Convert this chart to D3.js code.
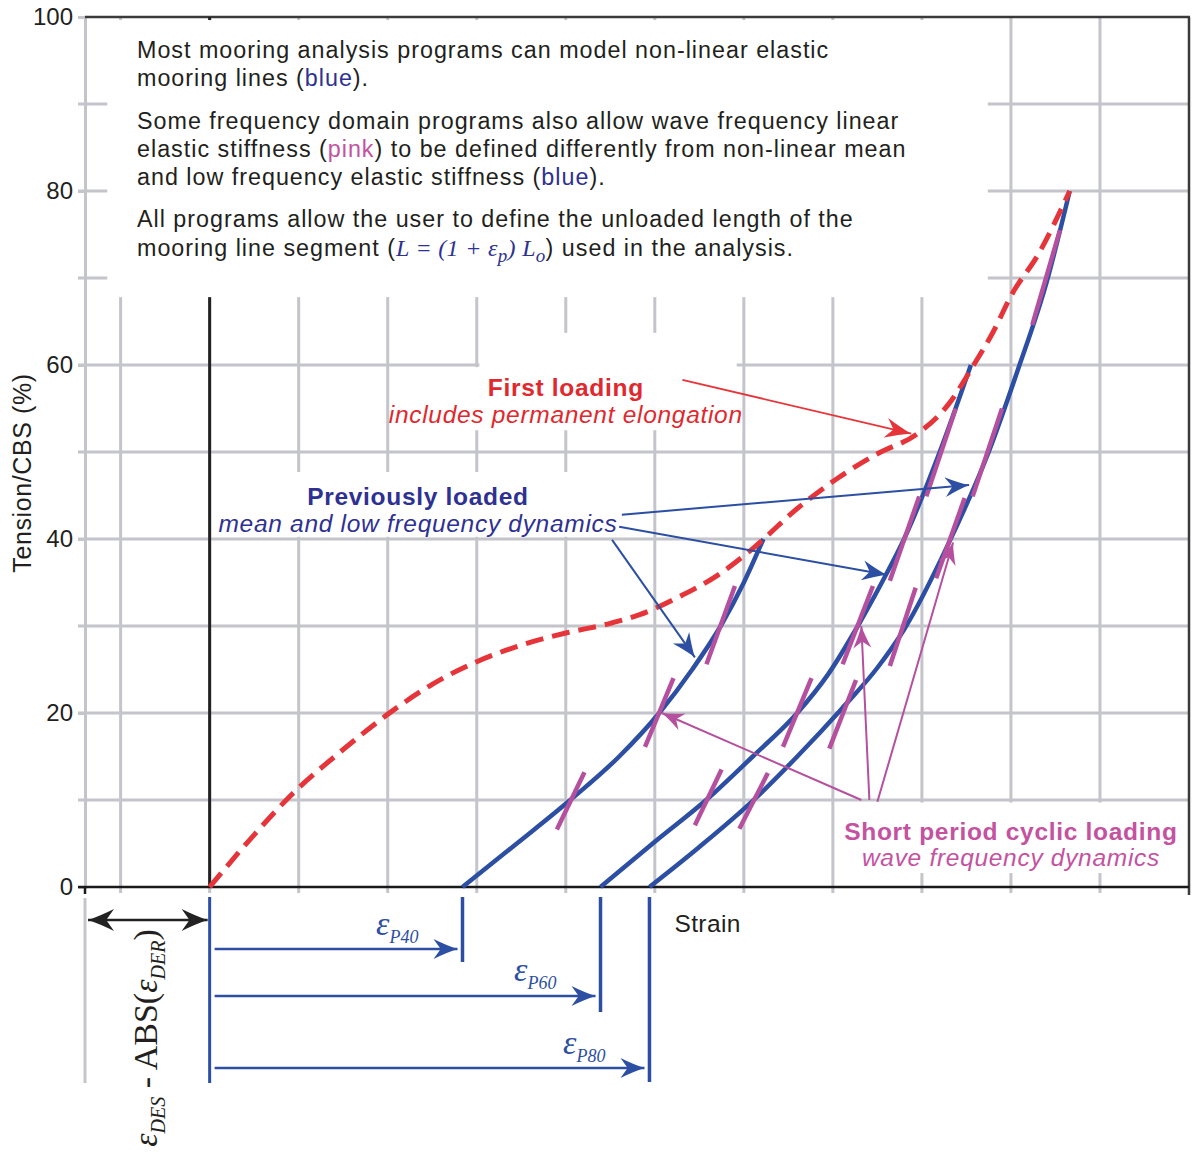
<!DOCTYPE html>
<html>
<head>
<meta charset="utf-8">
<script src="https://cdn.jsdelivr.net/npm/d3@7"></script>
<style>
  body { margin: 0; background: #fff; }
  svg { display: block; font-family: "Liberation Sans", Arial, sans-serif; }
</style>
</head>
<body>
<div id="chart"></div>
<script>
// rozmiar i skale
const width = 1195;
const height = 1154;

// dane (strain w jednostkach siatki, tension w % CBS)
const yTicks = [0, 20, 40, 60, 80, 100];
const yGrid = [10, 20, 30, 40, 50, 60, 70, 80, 90];
const xGrid = [-1, 0, 1, 2, 3, 4, 5, 6, 7, 8, 9, 10];

const firstLoading = [[0, 0], [0.5, 6.0], [0.9, 10.4], [1.5, 15.8], [2.06, 20.3], [2.5, 23.3], [3.0, 25.9],
  [3.5, 27.8], [4.0, 29.2], [4.5, 30.3], [4.83, 31.3], [5.3, 33.5], [5.7, 35.8], [6.1, 38.9], [6.6, 43.5],
  [7.07, 47.1], [7.5, 49.8], [7.95, 52.1], [8.3, 55.5], [8.57, 59.8], [8.8, 63.8], [9.02, 68.3], [9.3, 72.6], [9.66, 80]];

const loaded40 = [[2.84, 0], [3.45, 5], [4.05, 10], [4.6, 15], [5.05, 20], [5.42, 25], [5.74, 30], [6.0, 35], [6.22, 40]];
const loaded60 = [[4.39, 0], [5.0, 5.2], [5.6, 10.2], [6.1, 15], [6.6, 20], [6.95, 24.5], [7.28, 30], [7.55, 35], [7.8, 40], [8.2, 50], [8.55, 60]];
const loaded80 = [[4.94, 0], [5.5, 4.6], [6.1, 9.9], [6.6, 15], [7.1, 20.5], [7.5, 25.2], [7.8, 29.6], [8.3, 39.5], [8.75, 50], [9.08, 59.5], [9.4, 69.5], [9.66, 80]];

// odcinki sztywności falowej (pink): [x0, y0, x1, y1]
const waveSegments = [
  [3.90, 6.6, 4.21, 13.2], [4.89, 16.1, 5.21, 24.0], [5.58, 25.6, 5.90, 34.6],
  [5.45, 7.1, 5.75, 13.5], [6.44, 16.1, 6.76, 24.0], [7.11, 25.6, 7.45, 34.6], [7.64, 35.2, 7.97, 44.9], [8.05, 44.9, 8.38, 55.0],
  [5.95, 6.7, 6.27, 13.1], [6.96, 15.9, 7.26, 23.8], [7.64, 25.4, 7.93, 34.4], [8.16, 35.5, 8.48, 44.7], [8.57, 44.9, 8.90, 55.0], [9.24, 64.6, 9.55, 75.5]
];

// strzałki opisów: [x0, y0, x1, y1]
const redArrows = [[5.31, 58.3, 7.88, 52.1]];
const blueArrows = [[4.63, 42.8, 8.53, 46.2], [4.6, 41.4, 7.6, 35.9], [4.52, 39.9, 5.45, 26.4]];
const pinkArrows = [[7.32, 10, 5.08, 20], [7.41, 10, 7.32, 30], [7.5, 9.8, 8.35, 39.6]];

const permLabels = ["P40", "P60", "P80"];
const permStarts = [loaded40[0][0], loaded60[0][0], loaded80[0][0]];

const x = d3.scaleLinear().domain([-1.4, 11]).range([85, 1189]);
const y = d3.scaleLinear().domain([0, 100]).range([887, 17]);

const grey = "#c4c4cb";
const ink = "#231f20";
const red = "#e6353a";
const blue = "#2c4fa3";
const navy = "#2e3192";
const pink = "#b5509f";
const pinkText = "#c4529f";
const serifFont = "'Liberation Serif', 'Times New Roman', serif";

const svg = d3.select("#chart").append("svg")
  .attr("width", width)
  .attr("height", height);

// markery strzałek
const defs = svg.append("defs");
function marker(id, color, len, half) {
  defs.append("marker")
    .attr("id", id)
    .attr("viewBox", `${-len - 1} ${-half - 1} ${len + 2} ${2 * half + 2}`)
    .attr("refX", 0).attr("refY", 0)
    .attr("markerWidth", len + 2).attr("markerHeight", 2 * half + 2)
    .attr("markerUnits", "userSpaceOnUse")
    .attr("orient", "auto-start-reverse")
    .append("path")
    .attr("d", `M${-len},${-half} Q${-len * 0.45},${-half * 0.35} 0,0 Q${-len * 0.45},${half * 0.35} ${-len},${half} L${-len * 0.7},0 Z`)
    .attr("fill", color);
}
marker("arRed", red, 26, 10);
marker("arBlue", blue, 24, 10);
marker("arPink", pink, 22, 9);
marker("arBlack", "#222", 26, 11);

// siatka
svg.append("g").selectAll("line").data(xGrid).join("line")
  .attr("x1", d => x(d)).attr("x2", d => x(d))
  .attr("y1", y(100)).attr("y2", y(0) + 6)
  .attr("stroke", grey).attr("stroke-width", 3);

svg.append("g").selectAll("line").data(yGrid).join("line")
  .attr("x1", x(-1.4) - 7).attr("x2", x(11))
  .attr("y1", d => y(d)).attr("y2", d => y(d))
  .attr("stroke", grey).attr("stroke-width", 3);

// oś Y (etykiety)
const yAxis = svg.append("g")
  .attr("transform", `translate(${x(-1.4)},0)`)
  .call(d3.axisLeft(y).tickValues(yTicks).tickSize(7).tickPadding(5));
yAxis.select(".domain").attr("stroke", grey).attr("stroke-width", 3);
yAxis.selectAll(".tick line").attr("stroke", grey).attr("stroke-width", 3);
yAxis.selectAll(".tick text").attr("font-size", 24).attr("fill", ink)
  .style("font-family", "'Liberation Sans', Arial, sans-serif");

// ramka
svg.append("line").attr("x1", x(-1.4)).attr("x2", x(11) + 1).attr("y1", y(100)).attr("y2", y(100))
  .attr("stroke", "#3a3a3a").attr("stroke-width", 2.5);
svg.append("line").attr("x1", x(11)).attr("x2", x(11)).attr("y1", y(100)).attr("y2", y(0) + 8)
  .attr("stroke", "#3a3a3a").attr("stroke-width", 2.5);
svg.append("line").attr("x1", x(-1.4) - 7).attr("x2", x(11)).attr("y1", y(0)).attr("y2", y(0))
  .attr("stroke", "#1a1a1a").attr("stroke-width", 2.5);
svg.append("line").attr("x1", x(-1.4)).attr("x2", x(-1.4)).attr("y1", y(0)).attr("y2", y(0) + 7)
  .attr("stroke", "#1a1a1a").attr("stroke-width", 2.5);

// linia długości nieobciążonej
svg.append("line").attr("x1", x(0)).attr("x2", x(0)).attr("y1", y(100)).attr("y2", y(0))
  .attr("stroke", "#222").attr("stroke-width", 3);

// białe tła pod tekstami
const boxes = [
  [-1.15, 99.65, 8.74, 67.8],
  [3.03, 63.7, 5.92, 56.0],
  [2.04, 59.75, 5.98, 52.5],
  [0.06, 47.7, 4.63, 40.25],
  [7.06, 9.7, 10.92, 1.6]
];
svg.append("g").selectAll("rect").data(boxes).join("rect")
  .attr("x", d => x(d[0])).attr("y", d => y(d[1]))
  .attr("width", d => x(d[2]) - x(d[0])).attr("height", d => y(d[3]) - y(d[1]))
  .attr("fill", "#fff");

// krzywe
const line = d3.line().x(d => x(d[0])).y(d => y(d[1])).curve(d3.curveMonotoneX);

svg.append("g").selectAll("path").data([loaded40, loaded60, loaded80]).join("path")
  .attr("d", line)
  .attr("fill", "none").attr("stroke", blue).attr("stroke-width", 4.5);

svg.append("g").selectAll("line").data(waveSegments).join("line")
  .attr("x1", d => x(d[0])).attr("y1", d => y(d[1]))
  .attr("x2", d => x(d[2])).attr("y2", d => y(d[3]))
  .attr("stroke", pink).attr("stroke-width", 4.5);

svg.append("path").datum(firstLoading)
  .attr("d", line)
  .attr("fill", "none").attr("stroke", red).attr("stroke-width", 5)
  .attr("stroke-dasharray", "18,9");

// strzałki opisów
function arrows(data, color, id, w) {
  svg.append("g").selectAll("line").data(data).join("line")
    .attr("x1", d => x(d[0])).attr("y1", d => y(d[1]))
    .attr("x2", d => x(d[2])).attr("y2", d => y(d[3]))
    .attr("stroke", color).attr("stroke-width", w)
    .attr("marker-end", `url(#${id})`);
}
arrows(redArrows, red, "arRed", 1.8);
arrows(blueArrows, blue, "arBlue", 2);
arrows(pinkArrows, pink, "arPink", 2);

// etykiety
function label(xv, py, txt, color, weight, style) {
  svg.append("text")
    .attr("x", x(xv)).attr("y", py)
    .attr("text-anchor", "middle")
    .attr("font-size", 24.5)
    .attr("letter-spacing", 0.7)
    .attr("font-weight", weight)
    .attr("font-style", style)
    .attr("fill", color)
    .text(txt);
}
label(4.0, 396, "First loading", "#e0282e", "bold", "normal");
label(4.0, 423, "includes permanent elongation", "#e0282e", "normal", "italic");
label(2.34, 505, "Previously loaded", navy, "bold", "normal");
label(2.34, 532, "mean and low frequency dynamics", navy, "normal", "italic");
label(9.0, 840, "Short period cyclic loading", pinkText, "bold", "normal");
label(9.0, 866, "wave frequency dynamics", pinkText, "normal", "italic");

svg.append("text").attr("x", x(5.22)).attr("y", 932).attr("fill", ink)
  .attr("font-size", 24.5).attr("letter-spacing", 0.4).text("Strain");

svg.append("text")
  .attr("transform", "translate(31,473) rotate(-90)")
  .attr("text-anchor", "middle").attr("fill", ink)
  .attr("font-size", 25).attr("letter-spacing", 0.6)
  .text("Tension/CBS (%)");

// blok tekstu u góry
const noteLines = [
  [["Most mooring analysis programs can model non-linear elastic"]],
  [["mooring lines ("], ["blue", navy], [")."]],
  [["Some frequency domain programs also allow wave frequency linear"]],
  [["elastic stiffness ("], ["pink", pinkText], [") to be defined differently from non-linear mean"]],
  [["and low frequency elastic stiffness ("], ["blue", navy], [")."]],
  [["All programs allow the user to define the unloaded length of the"]]
];
const noteY = [58, 86, 128.5, 157, 185, 227];
noteLines.forEach((parts, i) => {
  const t = svg.append("text").attr("x", 137).attr("y", noteY[i])
    .attr("font-size", 23.3).attr("letter-spacing", 1.0).attr("fill", ink);
  parts.forEach(p => t.append("tspan").attr("fill", p[1] || ink).text(p[0]));
});
const last = svg.append("text").attr("x", 137).attr("y", 255.5)
  .attr("font-size", 23.3).attr("letter-spacing", 1.0).attr("fill", ink);
last.append("tspan").text("mooring line segment (");
function sTspan(parent, txt, size, dy) {
  const s = parent.append("tspan").text(txt).attr("fill", navy)
    .style("font-family", serifFont).attr("font-style", "italic")
    .attr("font-size", size).attr("letter-spacing", 0.3);
  if (dy) s.attr("dy", dy);
  return s;
}
sTspan(last, "L = (1 + ε", 24);
sTspan(last, "p", 19, 6);
sTspan(last, ") L", 24, -6);
sTspan(last, "o", 19, 6);
last.append("tspan").attr("dy", -6).text(") used in the analysis.");

// adnotacje pod osią
const annY = [949, 996, 1068];
const annEnd = [962, 1012, 1082];
const labY = [935, 981, 1054];

svg.append("line").attr("x1", x(-1.4)).attr("x2", x(-1.4)).attr("y1", 898).attr("y2", 1083)
  .attr("stroke", grey).attr("stroke-width", 3);
svg.append("line").attr("x1", x(0)).attr("x2", x(0)).attr("y1", 897).attr("y2", 1083)
  .attr("stroke", blue).attr("stroke-width", 3);
svg.append("line").attr("x1", x(-1.4) + 3).attr("x2", x(0) - 2).attr("y1", 920).attr("y2", 920)
  .attr("stroke", "#222").attr("stroke-width", 2.5)
  .attr("marker-start", "url(#arBlack)").attr("marker-end", "url(#arBlack)");

const ann = svg.append("g");
ann.selectAll(".hline").data(permStarts).join("line").attr("class", "hline")
  .attr("x1", x(0) + 5).attr("x2", d => x(d) - 5)
  .attr("y1", (d, i) => annY[i]).attr("y2", (d, i) => annY[i])
  .attr("stroke", blue).attr("stroke-width", 2.5)
  .attr("marker-end", "url(#arBlue)");
ann.selectAll(".vline").data(permStarts).join("line").attr("class", "vline")
  .attr("x1", d => x(d)).attr("x2", d => x(d))
  .attr("y1", 897).attr("y2", (d, i) => annEnd[i])
  .attr("stroke", blue).attr("stroke-width", 3.5);

permStarts.forEach((d, i) => {
  const t = svg.append("text").attr("x", x(d) - 44).attr("y", labY[i])
    .attr("text-anchor", "end")
    .style("font-family", serifFont).attr("font-style", "italic")
    .attr("fill", blue);
  t.append("tspan").attr("font-size", 34).text("ε");
  t.append("tspan").attr("font-size", 18).attr("dy", 8).text(permLabels[i]);
});

const vt = svg.append("text")
  .attr("transform", "translate(157,1038) rotate(-90)")
  .attr("text-anchor", "middle")
  .style("font-family", serifFont)
  .attr("font-size", 34)
  .attr("fill", ink);
vt.append("tspan").attr("font-style", "italic").text("ε");
vt.append("tspan").attr("font-style", "italic").attr("font-size", 20).attr("dy", 8).text("DES");
vt.append("tspan").attr("dy", -8).text(" - ABS(");
vt.append("tspan").attr("font-style", "italic").text("ε");
vt.append("tspan").attr("font-style", "italic").attr("font-size", 20).attr("dy", 8).text("DER");
vt.append("tspan").attr("dy", -8).text(")");
</script>
</body>
</html>
